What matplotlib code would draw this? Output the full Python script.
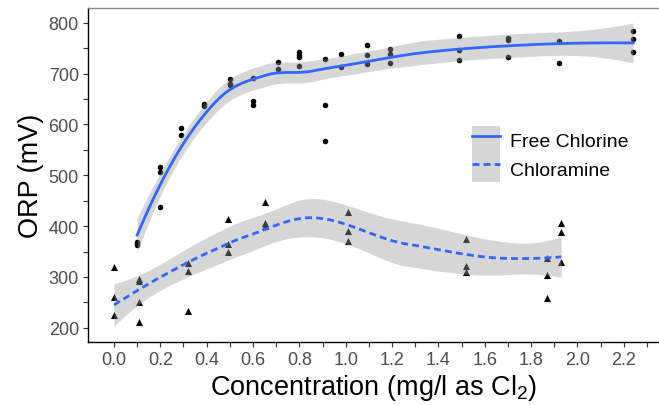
import numpy as np
import matplotlib
matplotlib.use('Agg')
import matplotlib.pyplot as plt
from matplotlib.lines import Line2D
from matplotlib.patches import Patch

plt.rcParams['font.family'] = ['Liberation Sans', 'DejaVu Sans']
plt.rcParams['mathtext.fontset'] = 'custom'
plt.rcParams['mathtext.rm'] = 'Liberation Sans'

# free chlorine readings (mg/l, mV)
free_x = [0.10, 0.10, 0.10,
          0.20, 0.20, 0.20,
          0.29, 0.29,
          0.39, 0.39,
          0.50, 0.50, 0.50,
          0.60, 0.60, 0.60,
          0.71, 0.71,
          0.80, 0.80, 0.80, 0.80,
          0.91, 0.91, 0.91,
          0.98, 0.98,
          1.09, 1.09, 1.09,
          1.19, 1.19, 1.19,
          1.49, 1.49, 1.49,
          1.70, 1.70, 1.70,
          1.92, 1.92,
          2.24, 2.24, 2.24]
free_orp = [369, 366, 363,
            516, 507, 438,
            593, 580,
            641, 637,
            690, 680, 677,
            692, 647, 639,
            723, 709,
            742, 737, 732, 715,
            728, 639, 568,
            738, 713,
            757, 736, 719,
            749, 739, 721,
            773, 747, 726,
            770, 767, 733,
            765, 720,
            784, 768, 742]

# chloramine readings
cam_x = [0.00, 0.00, 0.00,
         0.11, 0.11, 0.11, 0.11,
         0.32, 0.32, 0.32,
         0.49, 0.49, 0.49,
         0.65, 0.65, 0.65,
         1.01, 1.01, 1.01,
         1.52, 1.52, 1.52,
         1.87, 1.87, 1.87,
         1.93, 1.93, 1.93]
cam_orp = [319, 261, 225,
           296, 292, 250, 211,
           327, 312, 232,
           414, 365, 350,
           448, 406, 401,
           427, 390, 370,
           375, 322, 309,
           337, 303, 258,
           406, 388, 330]

labels = ['Free Chlorine', 'Chloramine']
x_ticks = np.arange(0, 2.21, 0.2)
y_ticks = [200, 300, 400, 500, 600, 700, 800]


def loess(x, y, grid, span=0.75):
    # loess like R's default: local quadratic, tricube weights,
    # fitted on kd-tree vertices and joined by cubic Hermite pieces
    x = np.asarray(x, float)
    y = np.asarray(y, float)
    n = len(x)
    q = int(np.floor(n * span))
    fc = int(np.floor(n * span * 0.2))

    def local(x0):
        d = np.abs(x - x0)
        h = np.sort(d)[q - 1]
        w = np.clip(1 - (d / h) ** 3, 0, None) ** 3
        X = np.column_stack([np.ones(n), x - x0, (x - x0) ** 2])
        A = X.T @ (w[:, None] * X)
        B = np.linalg.solve(A, X.T * w)
        return B[0], B[1]

    mu = 0.005 * (x.max() - x.min())
    verts = {x.min() - mu, x.max() + mu}

    def split(xs):
        xs = np.sort(xs)
        if len(xs) <= fc:
            return
        m = (1 + len(xs)) // 2 - 1
        for off in range(len(xs)):
            for mm in (m + off, m - off):
                if 0 <= mm < len(xs) - 1 and xs[mm] != xs[mm + 1]:
                    v = (xs[mm] + xs[mm + 1]) / 2
                    verts.add(v)
                    split(xs[xs <= v])
                    split(xs[xs > v])
                    return

    split(x)
    verts = np.array(sorted(verts))
    vals = [local(v) for v in verts]

    def rows(pts):
        out = []
        for p in pts:
            i = min(np.searchsorted(verts, p, side='right') - 1, len(verts) - 2)
            a, b = verts[i], verts[i + 1]
            t = (p - a) / (b - a)
            g0, d0 = vals[i]
            g1, d1 = vals[i + 1]
            out.append((1 - t) ** 2 * (1 + 2 * t) * g0 + t ** 2 * (3 - 2 * t) * g1
                       + (t * (1 - t) ** 2 * d0 - t ** 2 * (1 - t) * d1) * (b - a))
        return np.array(out)

    L = rows(x)
    res = y - L @ y
    M = np.eye(n) - L
    MM = M.T @ M
    d1 = np.trace(MM)
    d2 = np.trace(MM @ MM)
    sigma = np.sqrt(np.sum(res ** 2) / d1)
    df = d1 ** 2 / d2
    z = 1.959964
    tq = z + (z ** 3 + z) / (4 * df) + (5 * z ** 5 + 16 * z ** 3 + 3 * z) / (96 * df ** 2)
    G = rows(grid)
    fit = G @ y
    se = sigma * np.sqrt(np.sum(G ** 2, axis=1))
    return fit, fit - tq * se, fit + tq * se


fig = plt.figure(figsize=(6.59, 4.06), dpi=100)
ax = fig.add_axes([88 / 659, 63 / 406, 571 / 659, 334 / 406])

ax.scatter(free_x, free_orp, s=16, color='black', marker='o', linewidths=0, zorder=2)
ax.scatter(cam_x, cam_orp, s=26, color='black', marker='^', linewidths=0, zorder=2)

styles = ['-', (0, (2.5, 1.5))]
for (xs, ys), ls in zip([(free_x, free_orp), (cam_x, cam_orp)], styles):
    grid = np.linspace(min(xs), max(xs), 120)
    fit, lo, hi = loess(xs, ys, grid)
    ax.fill_between(grid, lo, hi, color='#999999', alpha=0.4, linewidth=0, zorder=3)
    ax.plot(grid, fit, color='#3366FF', lw=2.0, linestyle=ls, zorder=4)

ax.set_xlim(-0.112, 2.352)
ax.set_ylim(172, 829)
ax.set_xticks(x_ticks)
ax.set_xticklabels(['%.1f' % v for v in x_ticks])
ax.set_xticks(np.arange(0.1, 2.31, 0.2), minor=True)
ax.set_yticks(y_ticks)
ax.set_yticks(np.arange(250, 800, 100), minor=True)
ax.tick_params(which='both', length=3.5, width=0.8, color='#333333',
               labelsize=13, labelcolor='#4D4D4D', pad=3)

ax.spines['right'].set_visible(False)
ax.spines['top'].set_color('#888888')
ax.spines['top'].set_linewidth(1.0)
ax.spines['left'].set_linewidth(1.0)
ax.spines['bottom'].set_linewidth(1.0)

ax.set_xlabel('Concentration (mg/l as Cl$_2$)', fontsize=19.5, labelpad=3)
ax.set_ylabel('ORP (mV)', fontsize=19.5, labelpad=3)

handles = [(Patch(facecolor='#D6D6D6', edgecolor='none'),
            Line2D([], [], color='#3366FF', lw=2.0, linestyle=ls)) for ls in styles]
ax.legend(handles, labels, loc='center left', bbox_to_anchor=(0.6725, 0.562),
          frameon=False, fontsize=14, handlelength=1.45, handleheight=1.85,
          handletextpad=0.5, labelspacing=0.0, borderpad=0, borderaxespad=0)

fig.savefig('out.png', dpi=100)
